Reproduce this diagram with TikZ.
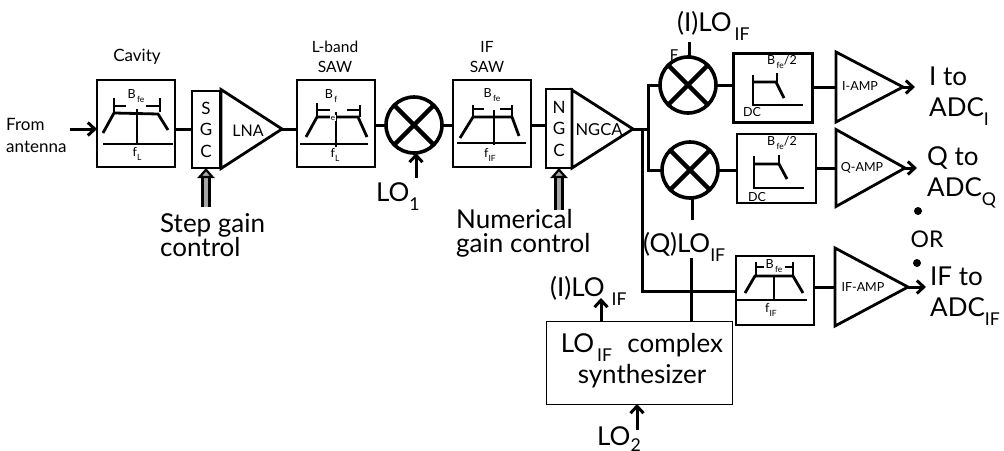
\documentclass[tikz,border=0pt]{standalone}
\usepackage{fontspec}
\usepackage{graphicx}
\setmainfont{Lato}
\usetikzlibrary{shapes.geometric,arrows.meta,calc}
\newcommand{\lowsub}[1]{\raisebox{-.35em}{\scalebox{.68}{#1}}}
\tikzset{
tinytxt/.style={font=\fontsize{12.5}{14}\selectfont,inner sep=0pt,align=center},
midtxt/.style={font=\fontsize{17}{22}\selectfont,inner sep=0pt,align=left},
captxt/.style={font=\fontsize{15.5}{20}\selectfont,inner sep=0pt,align=center},
bigtxt/.style={font=\fontsize{26}{24}\selectfont,inner sep=0pt,align=left},
outtxt/.style={font=\fontsize{26}{31}\selectfont,inner sep=0pt,align=left},
block/.style={draw,line width=2.8pt,inner sep=0pt,outer sep=0pt},
filterbox/.style={block,minimum width=78pt,minimum height=87pt},
lowbox/.style={block,minimum width=79pt,minimum height=69pt},
gainbox/.style={draw,line width=2.2pt,outer sep=0pt,align=center,inner sep=0pt,font=\fontsize{17}{21.5}\selectfont},
amp/.style={isosceles triangle,isosceles triangle stretches,draw,line width=2.8pt,inner sep=0pt,outer sep=0pt,anchor=apex},
mixer/.style={circle,draw,line width=3.6pt,minimum size=56pt,inner sep=0pt,outer sep=0pt,
path picture={\draw[line width=4.5pt] (path picture bounding box.south west) -- (path picture bounding box.north east)
(path picture bounding box.north west) -- (path picture bounding box.south east);}},
wire/.style={line width=3pt},
feed/.style={line width=3pt,-{Straight Barb[length=7pt,width=13pt,line width=3pt]}},
gainfeed/.style={line width=2.4pt,double=black!35,double distance=4.5pt,-{Triangle[length=10pt,width=17pt,fill=black!35,line width=2.2pt]}},
curve/.style={line width=2.8pt},
thinline/.style={line width=1.8pt}
}
\begin{document}
\begin{tikzpicture}[x=1pt,y=-1pt]
\useasboundingbox (0,0) rectangle (1004,450);
% signal chain
\node[filterbox] (cavity) at (136,123.5) {};
\node[gainbox,minimum width=28pt,minimum height=77pt] (sgc) at (206,129.5) {S\\G\\C};
\node[amp,minimum height=61pt,minimum width=79pt] (lna) at (282,129) {};
\node[filterbox] (lband) at (336,123.5) {};
\node[mixer] (mixa) at (414,125) {};
\node[filterbox] (ifsaw) at (492,123.5) {};
\node[gainbox,minimum width=26pt,minimum height=79pt] (ngc) at (559,128.5) {N\\G\\C};
\node[amp,minimum height=61pt,minimum width=78pt] (ngca) at (633,129) {};
\node[mixer] (mixi) at (688,85) {};
\node[mixer] (mixq) at (690,170) {};
\node[lowbox] (ibox) at (773,88) {};
\node[lowbox] (qbox) at (776.5,168.5) {};
\node[block,minimum width=78pt,minimum height=69pt] (ifbox) at (775,290.5) {};
\node[amp,minimum height=67pt,minimum width=70pt] (iamp) at (903,87) {};
\node[amp,minimum height=69pt,minimum width=77pt] (qamp) at (905,168) {};
\node[amp,minimum height=73pt,minimum width=78pt] (ifamp) at (908,287) {};
\node[draw,line width=1pt,minimum width=186pt,minimum height=83pt,inner sep=0pt,outer sep=0pt] (synth) at (639,362.5) {};
% labels
\node[midtxt,font=\fontsize{16}{18}\selectfont] (lnatxt) at (248,131) {LNA};
\node[midtxt,font=\fontsize{16.5}{18}\selectfont] (ngcatxt) at (599,130) {NGCA};
\node[tinytxt] (iamptxt) at (860,86) {I-AMP};
\node[tinytxt] (qamptxt) at (862,168) {Q-AMP};
\node[tinytxt] (ifamptxt) at (863,287) {IF-AMP};
\node[midtxt,align=center] (cavitytxt) at (137,57) {Cavity};
\node[captxt] (lbandtxt) at (335,57) {L-band\\SAW};
\node[captxt] (ifsawtxt) at (487,57) {IF\\SAW};
\node[midtxt,anchor=west] (antenna) at (6,135) {From\\antenna};
\node[bigtxt,anchor=north west] (stepgain) at (160,213) {Step gain\\control};
\node[bigtxt,anchor=north west] (numgain) at (456,209) {Numerical\\gain control};
\node[bigtxt,anchor=west] (loa) at (376,197) {LO\lowsub{1}};
\node[bigtxt,anchor=west] (iloa) at (677,26) {(I)LO\lowsub{\,IF}};
\node[bigtxt,anchor=west] (qlo) at (643,247) {(Q)LO\lowsub{IF}};
\node[bigtxt,anchor=west] (ilob) at (550,291) {(I)LO\kern7pt\lowsub{IF}};
\node[bigtxt,anchor=west] (lob) at (597,439) {LO\raisebox{-.2em}{\scalebox{.68}{2}}};
\node[outtxt,align=center] (synthtxt) at (642,361) {LO\lowsub{\,IF}\,\, complex\\synthesizer};
\node[outtxt,anchor=west] (ito) at (929,96) {I to\\ADC\lowsub{I}};
\node[outtxt,anchor=west] (qto) at (927,177) {Q to\\ADC\lowsub{Q}};
\node[outtxt,anchor=west] (ifto) at (930,296) {IF to\\ADC\lowsub{IF}};
\node[midtxt,font=\fontsize{23}{24}\selectfont] (ortxt) at (927,239) {OR};
\node[circle,fill,inner sep=0pt,minimum size=8pt] (dota) at (918,211) {};
\node[circle,fill,inner sep=0pt,minimum size=8pt] (dotb) at (917,263) {};
\node[tinytxt,font=\fontsize{15}{16}\selectfont] (ftxt) at (674,55) {F};
% connectors
\coordinate (feedin) at (70,129);
\coordinate (split) at (648,129);
\coordinate (tap) at (642,291);
\coordinate (qlotop) at (691,258);
\coordinate (iloend) at (689,42);
\coordinate (qlostub) at (692,220);
\coordinate (loain) at (416,178);
\coordinate (iloin) at (601,298);
\coordinate (lobin) at (637,430);
\coordinate (stepin) at (206,207);
\coordinate (numin) at (559,210);
\coordinate (iout) at (915,87);
\coordinate (qout) at (917,168);
\coordinate (ifout) at (926,287);
\draw[feed] (feedin) -- (cavity.west |- feedin);
\draw[wire] (cavity.east |- sgc.west) -- (sgc.west);
\draw[wire] (lna.apex) -- (lband.west |- lna.apex);
\draw[wire] (lband.east |- mixa) -- (mixa.west);
\draw[wire] (mixa.east) -- (ifsaw.west |- mixa);
\draw[wire] (ifsaw.east |- mixa) -- (ngc.west |- mixa);
\draw[feed] (loain) -- (mixa.south -| loain);
\draw[gainfeed] (stepin) -- (sgc.south);
\draw[gainfeed] (numin) -- (ngc.south);
\draw[wire] (ngca.apex) -- (split);
\draw[wire] (mixi.west) -- (mixi.west -| split) -- (mixq.west -| split) -- (mixq.west);
\draw[wire] (ngca.apex -| tap) -- (tap) -- (ifbox.west |- tap);
\draw[wire] (mixi.east) -- (ibox.west |- mixi);
\draw[wire] (mixq.east) -- (qbox.west |- mixq);
\draw[wire] (iloend) -- (mixi.north -| iloend);
\draw[wire] (mixq.south -| qlostub) -- (qlostub);
\draw[wire] (ibox.east |- iamp.apex) -- (iamp.lower side |- iamp.apex);
\draw[wire] (qbox.east |- qamp.apex) -- (qamp.lower side |- qamp.apex);
\draw[wire] (ifbox.east |- ifamp.apex) -- (ifamp.lower side |- ifamp.apex);
\draw[feed] (iamp.apex) -- (iout);
\draw[feed] (qamp.apex) -- (qout);
\draw[feed] (ifamp.apex) -- (ifout);
\draw[wire] (qlotop) -- (synth.north -| qlotop);
\draw[feed] (synth.north -| iloin) -- (iloin);
\draw[feed] (lobin) -- (synth.south -| lobin);
% cavity response
\draw[curve] (103,133) -- (114,113) -- (158,114) -- (168,130);
\draw[thinline] (137,109) -- (137,144) (103,144) -- (173,144);
\draw[thinline] (114,98) -- (114,112) (160,98) -- (160,112) (114,106) -- (126,106) (146,106) -- (160,106);
\node[tinytxt] (cavityb) at (136,96) {B\lowsub{\,fe}};
\node[tinytxt] (cavityf) at (137,154) {f\lowsub{L}};
% L-band response
\draw[curve] (306,137) -- (317,117) -- (358,117) -- (367,137);
\draw[thinline] (336,112) -- (336,147) (300,144) -- (368,144);
\draw[thinline] (317,103) -- (317,117) (360,105) -- (360,117) (317,110) -- (330,110) (347,110) -- (360,110);
\node[tinytxt] (lbandb) at (331,96) {B\lowsub{\,f}};
\node[tinytxt,font=\fontsize{8}{10}\selectfont,fill=white,inner sep=.5pt] (lbande) at (333,118) {e};
\node[tinytxt] (lbandf) at (335,155) {f\lowsub{L}};
% IF SAW response
\draw[curve] (460,138) -- (473,117) -- (512,117) -- (519,136);
\draw[thinline] (494,110) -- (494,145) (457,143) -- (526,143);
\draw[thinline] (473,105) -- (473,117) (512,105) -- (512,117) (473,109) -- (484,109) (500,109) -- (512,109);
\node[tinytxt] (ifsawb) at (492,95) {B\lowsub{\,fe}};
\node[tinytxt] (ifsawf) at (490,155) {f\lowsub{IF}};
% I and Q low pass responses
\draw[curve] (753,82) -- (776,82) -- (784,98);
\draw[thinline] (753,75) -- (753,105) -- (803,105) (777,73) -- (777,82);
\node[tinytxt] (ibtxt) at (782,62) {B\lowsub{\,fe}/2};
\node[tinytxt] (idc) at (752,112) {DC};
\draw[curve] (754,164) -- (779,164) -- (787,179);
\draw[thinline] (754,156) -- (754,188) -- (804,188) (779,155) -- (779,164);
\node[tinytxt] (qbtxt) at (782,143) {B\lowsub{\,fe}/2};
\node[tinytxt] (qdc) at (757,197) {DC};
% IF response
\draw[curve] (745,293) -- (755,276) -- (793,276) -- (803,293);
\draw[thinline] (774,275) -- (774,301) (737,300) -- (807,300);
\draw[thinline] (756,262) -- (756,276) (793,262) -- (793,276) (756,267) -- (764,267) (785,267) -- (793,267);
\node[tinytxt] (ifboxb) at (774,266) {B\lowsub{\,fe}};
\node[tinytxt] (ifboxf) at (771,310) {f\lowsub{IF}};
\end{tikzpicture}
\end{document}
